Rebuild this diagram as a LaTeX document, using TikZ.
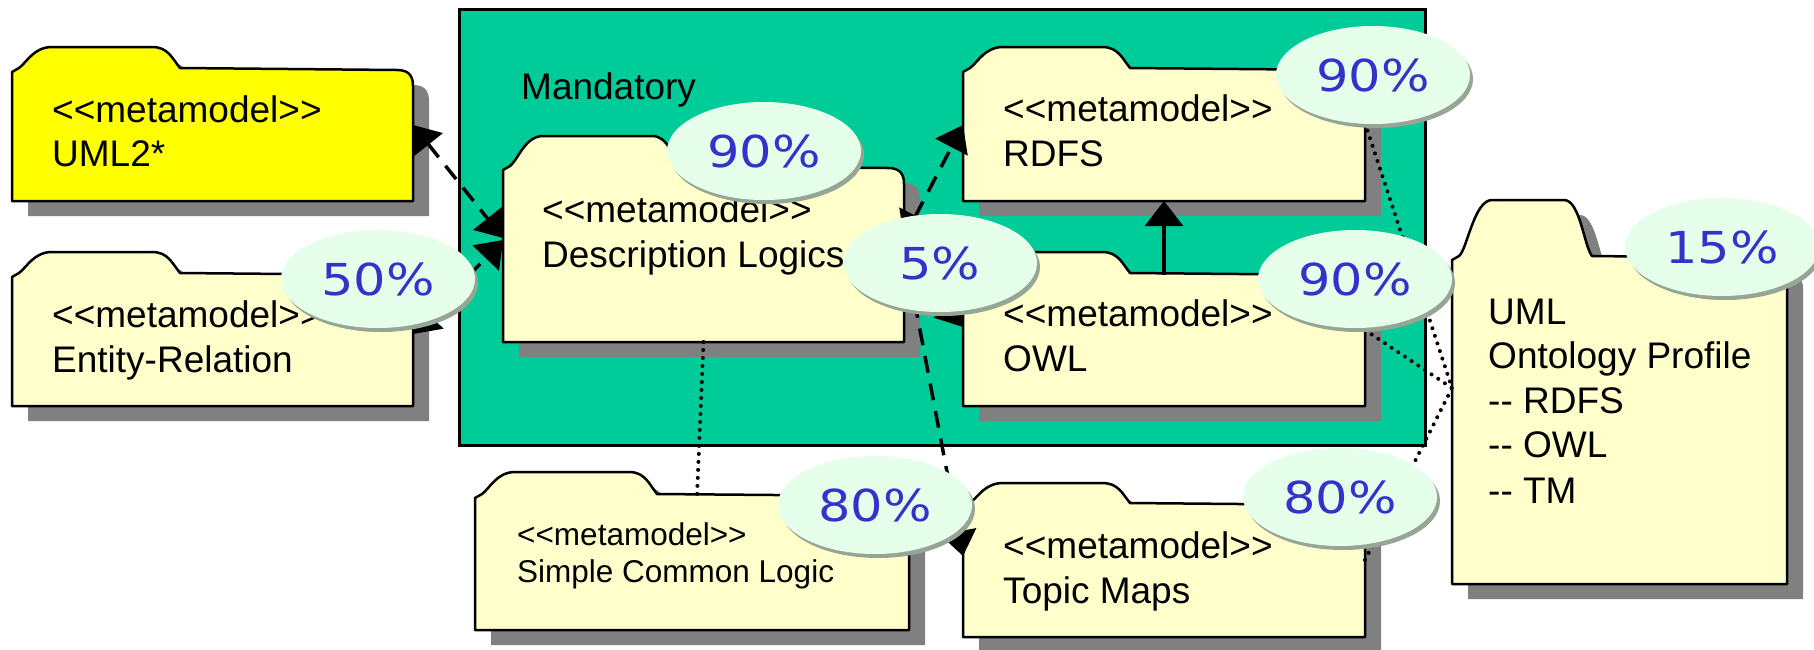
\documentclass[tikz,border=0pt]{standalone}
\usepackage{fontspec}
\usepackage{graphicx}
\setmainfont{Liberation Sans}
\newfontfamily\pctfont{DejaVu Sans}
\usetikzlibrary{shapes.geometric,arrows.meta,shadows}

\definecolor{mandgreen}{RGB}{0,204,153}
\definecolor{pkgfill}{RGB}{255,255,204}
\definecolor{pkgyellow}{RGB}{255,255,0}
\definecolor{shadowgray}{RGB}{128,128,128}
\definecolor{pctfill}{RGB}{230,255,235}
\definecolor{pctrim}{RGB}{150,165,150}
\definecolor{pctblue}{RGB}{51,51,204}

\newcommand\boxfont{\fontsize{37}{45}\selectfont}
\newcommand\smallboxfont{\fontsize{31.5}{38}\selectfont}
\newcommand\pcttext[1]{\scalebox{1.16}[1]{#1}}

\tikzset{
  folderline/.style={draw=black, line width=2.5pt, line join=round},
  lbl/.style={anchor=base west, inner sep=0pt, font=\boxfont},
  slbl/.style={anchor=base west, inner sep=0pt, font=\smallboxfont},
  pct/.style={ellipse, fill=pctfill, minimum width=194pt, minimum height=98pt,
    inner sep=0pt, text=pctblue, font=\pctfont\fontsize{44}{44}\selectfont,
    drop shadow={shadow xshift=3pt, shadow yshift=-4pt, fill=pctrim, opacity=1}},
  dep/.style={line width=3.5pt, dash pattern=on 17pt off 11pt,
    -{Triangle[length=25pt,width=36pt]}},
  depboth/.style={line width=3.5pt, dash pattern=on 17pt off 11pt,
    {Triangle[length=25pt,width=36pt]}-{Triangle[length=25pt,width=36pt]}},
  generalize/.style={line width=3.5pt, -{Triangle[length=25pt,width=38pt]}},
  dotline/.style={line width=4pt, line cap=round, dash pattern=on 0pt off 8pt},
}

% folder shape: #1 name, #2 fill, #3 left, #4 tab top, #5 body top,
% #6 tab right, #7 right, #8 bottom
\newcommand\drawfolder[8]{%
  \fill[shadowgray, shift={(16,15)}]
    (#3,#5+2) -- (#3+7,#5-2) .. controls (#3+15,#5-8) and (#3+22,#4) .. (#3+40,#4)
    -- (#6-28,#4) .. controls (#6-12,#4) and (#6-8,#5-12) .. (#6,#5-2)
    -- (#7-16,#5) .. controls (#7-4,#5) and (#7,#5+6) .. (#7,#5+16)
    -- (#7,#8) -- (#3,#8) -- cycle;
  \draw[folderline, fill=#2]
    (#3,#5+2) -- (#3+7,#5-2) .. controls (#3+15,#5-8) and (#3+22,#4) .. (#3+40,#4)
    -- (#6-28,#4) .. controls (#6-12,#4) and (#6-8,#5-12) .. (#6,#5-2)
    -- (#7-16,#5) .. controls (#7-4,#5) and (#7,#5+6) .. (#7,#5+16)
    -- (#7,#8) -- (#3,#8) -- cycle;
  \node[inner sep=0pt, outer sep=0pt, minimum width={(#7-#3)*1pt},
    minimum height={(#8-#5)*1pt}] (#1) at ({(#3+#7)/2},{(#5+#8)/2}) {};
}

\begin{document}
\begin{tikzpicture}[x=1pt,y=-1pt]
\useasboundingbox (0,0) rectangle (1814,649);
\fill[white] (0,0) rectangle (1814,649);

% mandatory package area
\node[draw=black, line width=2.5pt, fill=mandgreen, inner sep=0pt,
  minimum width=966pt, minimum height=436pt, anchor=north west] (mandatory) at (458,8) {};
\node[lbl] (mandatory-t) at (521,99) {Mandatory};

% metamodel packages
\drawfolder{uml2}{pkgyellow}{12}{47}{70}{180}{413}{201}
\drawfolder{er}{pkgfill}{12}{252}{275}{180}{413}{406}
\drawfolder{dl}{pkgfill}{503}{136}{168}{680}{904}{342}
\drawfolder{rdfs}{pkgfill}{963}{47}{70}{1130}{1365}{201}
\drawfolder{owl}{pkgfill}{963}{252}{275}{1130}{1365}{406}
\drawfolder{scl}{pkgfill}{475}{472}{496}{657}{909}{630}
\drawfolder{tm}{pkgfill}{963}{483}{505}{1130}{1365}{637}
\drawfolder{uprof}{pkgfill}{1452}{200}{258}{1592}{1787}{584}

% package labels
\node[lbl] (uml2-a) at (52,122) {<{}<metamodel>{}>};
\node[lbl] (uml2-b) at (52,166) {UML2*};
\node[lbl] (er-a) at (52,327) {<{}<metamodel>{}>};
\node[lbl] (er-b) at (52,372) {Entity-Relation};
\node[lbl] (dl-a) at (542,222) {<{}<metamodel>{}>};
\node[lbl] (dl-b) at (542,267) {Description Logics};
\node[lbl] (rdfs-a) at (1003,121) {<{}<metamodel>{}>};
\node[lbl] (rdfs-b) at (1003,166) {RDFS};
\node[lbl] (owl-a) at (1003,326) {<{}<metamodel>{}>};
\node[lbl] (owl-b) at (1003,371) {OWL};
\node[slbl] (scl-a) at (517,545) {<{}<metamodel>{}>};
\node[slbl] (scl-b) at (517,582) {Simple Common Logic};
\node[lbl] (tm-a) at (1003,558) {<{}<metamodel>{}>};
\node[lbl] (tm-b) at (1003,603) {Topic Maps};
\node[lbl] (uprof-a) at (1488,324) {UML};
\node[lbl] (uprof-b) at (1488,368) {Ontology Profile};
\node[lbl] (uprof-c) at (1488,413) {-{}- RDFS};
\node[lbl] (uprof-d) at (1488,457) {-{}- OWL};
\node[lbl] (uprof-e) at (1488,503) {-{}- TM};

% dependencies
\draw[depboth] ([yshift=-55pt]uml2.north east) -- ([yshift=-70pt]dl.north west);
\draw[depboth] ([yshift=-59pt]er.north east) -- ([yshift=-72pt]dl.north west);
\draw[depboth] ([yshift=-70pt]dl.north east) -- ([yshift=-55pt]rdfs.north west);
\draw[dep] ([yshift=-78pt]dl.north east) -- ([yshift=-52pt]owl.north west);
\draw[dep] ([yshift=-78pt]dl.north east) -- ([yshift=-51pt]tm.north west);
\draw[generalize] (owl.north) -- (rdfs.south);

% profile and logic links
\draw[dotline] (dl.south) -- ([xshift=5pt]scl.north);
\draw[dotline] ([yshift=-53pt]rdfs.north east) -- ([yshift=-130pt]uprof.north west);
\draw[dotline] ([yshift=-55pt]owl.north east) -- ([yshift=-130pt]uprof.north west);
\draw[dotline] ([yshift=-55pt]tm.north east) -- ([yshift=-130pt]uprof.north west);

% coverage labels
\node[pct] (p-er) at (378,279) {\pcttext{50\%}};
\node[pct] (p-dl) at (764,151) {\pcttext{90\%}};
\node[pct] (p-five) at (940,263) {\pcttext{5\%}};
\node[pct] (p-rdfs) at (1373,75) {\pcttext{90\%}};
\node[pct] (p-owl) at (1355,279) {\pcttext{90\%}};
\node[pct] (p-scl) at (875,505) {\pcttext{80\%}};
\node[pct] (p-tm) at (1340,497) {\pcttext{80\%}};
\node[pct] (p-uprof) at (1722,247) {\pcttext{15\%}};
\end{tikzpicture}
\end{document}
